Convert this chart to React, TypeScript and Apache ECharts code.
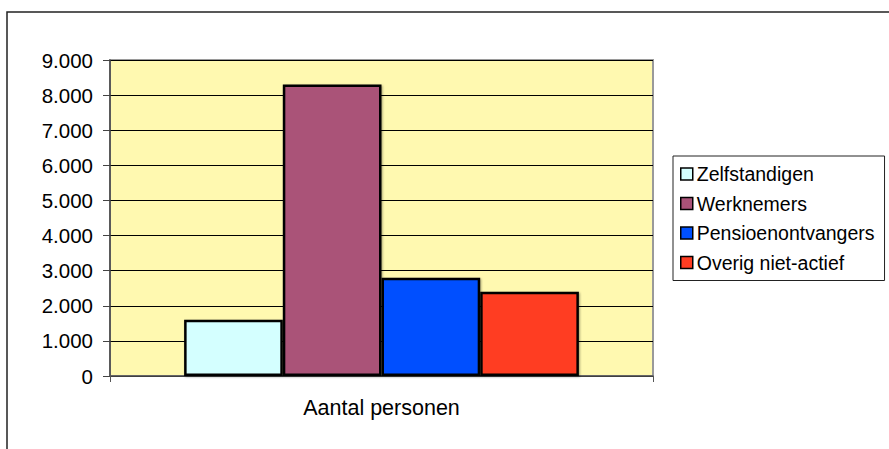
import React, { useEffect, useRef } from "react";
import * as echarts from "echarts";

const categories = ["Aantal personen"];
const seriesNames = ["Zelfstandigen", "Werknemers", "Pensioenontvangers", "Overig niet-actief"];
const seriesValues = [1600, 8300, 2800, 2400];
const seriesColors = ["#D4FFFF", "#AA5278", "#0050FF", "#FF3D22"];
const yTickLabels = ["0", "1.000", "2.000", "3.000", "4.000", "5.000", "6.000", "7.000", "8.000", "9.000"];

const FONT = "'Liberation Sans', Arial, sans-serif";

export default function App() {
  const ref = useRef<HTMLDivElement>(null);
  useEffect(() => {
    if (!ref.current) return;
    const chart = echarts.init(ref.current, undefined, { renderer: "svg" });
    chart.setOption({
      animation: false,
      backgroundColor: "#ffffff",
      textStyle: { fontFamily: FONT },
      graphic: [
        {
          type: "rect",
          shape: { x: 7, y: 12, width: 1000, height: 1000 },
          style: { fill: "none", stroke: "#222", lineWidth: 1.5 },
          silent: true,
          z: 100,
        },
      ],
      grid: {
        left: 110,
        top: 60,
        right: 236,
        bottom: 73,
        show: true,
        backgroundColor: "#FFF9B0",
        borderColor: "#9a9a9a",
        borderWidth: 2,
      },
      legend: {
        orient: "vertical",
        left: 673,
        top: 156,
        icon: "rect",
        itemWidth: 12,
        itemHeight: 12,
        itemGap: 9.5,
        padding: [8, 10, 8, 7],
        borderColor: "#222",
        borderWidth: 1,
        backgroundColor: "#fff",
        itemStyle: { borderColor: "#000", borderWidth: 1.5 },
        textStyle: { fontSize: 19.5, color: "#000", fontFamily: FONT, lineHeight: 19, padding: [0, 0, 0, -1] },
        data: seriesNames,
      },
      xAxis: {
        type: "category",
        data: categories,
        axisLine: { show: true, lineStyle: { color: "#555", width: 1.5 } },
        axisTick: { show: true, length: 6, lineStyle: { color: "#555", width: 1 } },
        axisLabel: { fontSize: 21.5, color: "#000", margin: 21, fontFamily: FONT },
      },
      yAxis: {
        type: "value",
        min: 0,
        max: 9000,
        interval: 1000,
        axisLine: { show: true, lineStyle: { color: "#444", width: 1.5 } },
        axisTick: { show: true, length: 7, lineStyle: { color: "#444", width: 1 } },
        axisLabel: {
          fontSize: 20.5,
          color: "#000",
          margin: 17,
          fontFamily: FONT,
          formatter: (v: number) => yTickLabels[Math.round(v / 1000)] ?? String(v),
        },
        splitLine: { show: true, lineStyle: { color: "#000", width: 1 } },
      },
      series: seriesNames.map((name, i) => ({
        name,
        type: "bar",
        data: [seriesValues[i]],
        barGap: "0%",
        barCategoryGap: "27.3%",
        itemStyle: {
          color: seriesColors[i],
          borderColor: "#000",
          borderWidth: 2.5,
          shadowColor: "rgba(0,0,0,0.35)",
          shadowBlur: 2,
          shadowOffsetX: 1,
          shadowOffsetY: 1,
        },
      })),
    });
    return () => chart.dispose();
  }, []);
  return (
    <div
      ref={ref}
      style={{ position: "absolute", left: 0, top: 0, width: 889, height: 449 }}
    />
  );
}
